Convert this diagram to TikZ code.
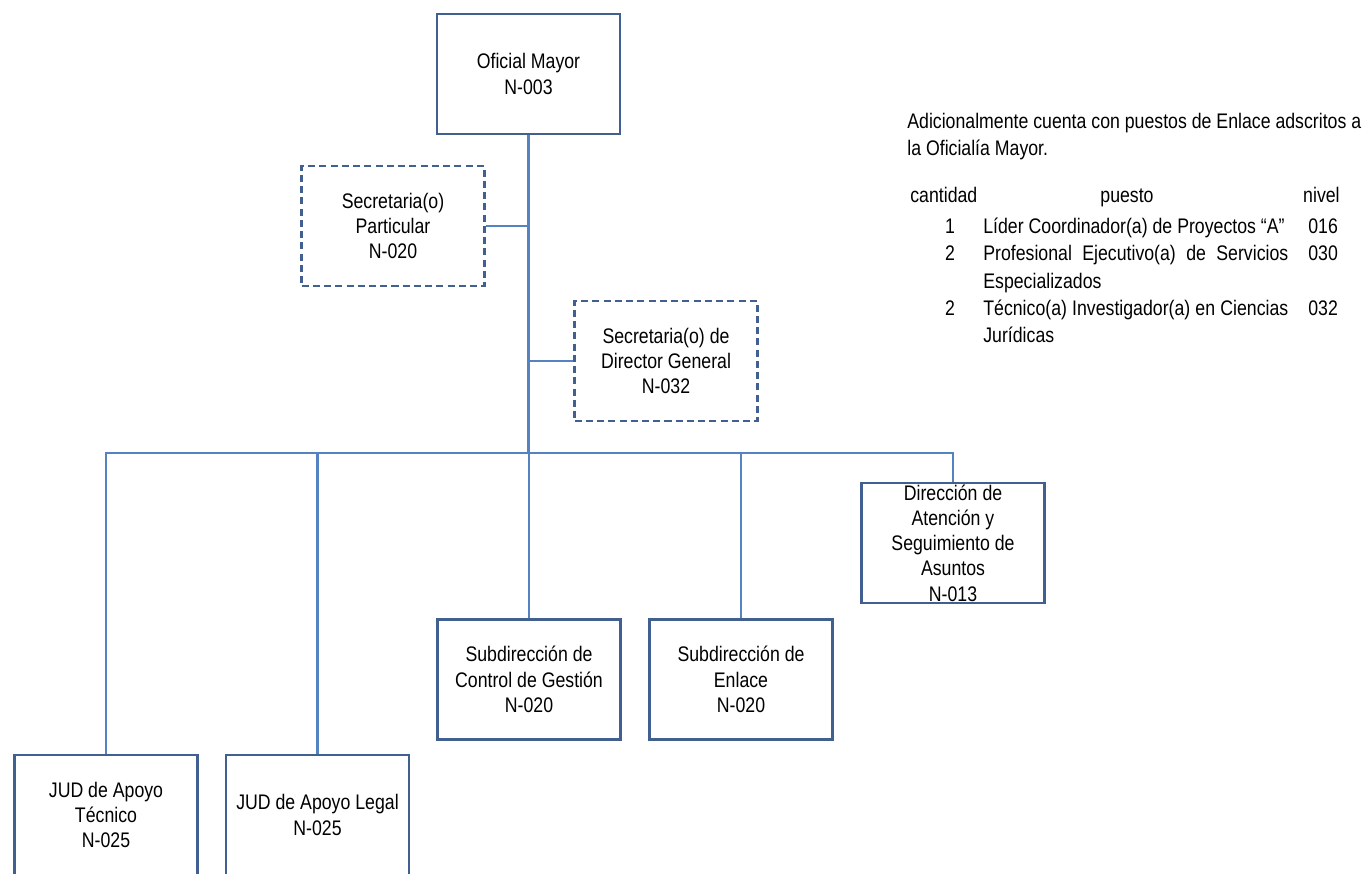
\documentclass[tikz,border=0pt]{standalone}
\usepackage{fontspec}
\setmainfont{Liberation Sans}[FakeStretch=0.84]
\usepackage{tikz}
\usepackage{xcolor}
\definecolor{boxc}{HTML}{41608F}
\definecolor{linec}{HTML}{5582C0}

\begin{document}
\begin{tikzpicture}[x=0.02cm,y=-0.02cm,
  font=\fontsize{12}{14.4}\selectfont,
  box/.style={draw=boxc,line width=1.2pt,minimum width=3.66cm,minimum height=2.4cm,align=center,inner sep=1pt},
  dbox/.style={box,dash pattern=on 4pt off 2.4pt},
  conn/.style={draw=linec,line width=1.2pt}]
  \useasboundingbox (0,0) rectangle (1365,873);
  \clip (0,0) rectangle (1365,873);
  % boxes: positions in px of the page
  \node[box] (ofm) at (528.5,74) {Oficial Mayor\\N-003};
  \node[dbox] (secpart) at (393,226) {Secretaria(o)\\Particular\\N-020};
  \node[dbox] (secdg) at (666,361) {Secretaria(o) de\\Director General\\N-032};
  \node[box] (dasa) at (953,543) {Dirección de\\Atención y\\Seguimiento de\\Asuntos\\N-013};
  \node[box] (subcg) at (529,679.5) {Subdirección de\\Control de Gestión\\N-020};
  \node[box] (subenl) at (741,679.5) {Subdirección de\\Enlace\\N-020};
  \node[box] (judtec) at (106,815) {JUD de Apoyo\\Técnico\\N-025};
  \node[box] (judleg) at (317.5,815) {JUD de Apoyo Legal\\N-025};
  \coordinate (bus) at (528.5,453);
  % connectors
  \draw[conn] (ofm.south) -- (bus);
  \draw[conn] (secpart.east) -- (secpart.east -| ofm.south);
  \draw[conn] (secdg.west) -- (secdg.west -| ofm.south);
  \draw[conn] (judtec.north) -- (judtec.north |- bus) -- (dasa.north |- bus) -- (dasa.north);
  \foreach \n in {judleg,subcg,subenl}
    \draw[conn] (\n.north) -- (\n.north |- bus);
  % note on the right
  \node[anchor=base west,inner sep=0] (nota1) at (907,128) {Adicionalmente cuenta con puestos de Enlace adscritos a};
  \node[anchor=base west,inner sep=0] (nota2) at (907,155) {la Oficialía Mayor.};
  \node[anchor=base west,inner sep=0] (hcant) at (910,202) {cantidad};
  \node[anchor=base,inner sep=0] (hpue) at (1127,202) {puesto};
  \node[anchor=base east,inner sep=0] (hniv) at (1340,202) {nivel};
  \foreach \y/\c/\t/\v in {
    233/1/Líder Coordinador(a) de Proyectos “A”/016,
    260/2/{\hbox to 6.1cm{Profesional\hfill Ejecutivo(a)\hfill de\hfill Servicios}}/030,
    315/2/{\hbox to 6.1cm{Técnico(a)\hfill Investigador(a)\hfill en\hfill Ciencias}}/032} {
    \node[anchor=base,inner sep=0] at (950,\y) {\c};
    \node[anchor=base west,inner sep=0] at (983,\y) {\t};
    \node[anchor=base west,inner sep=0] at (1308,\y) {\v};
  }
  \node[anchor=base west,inner sep=0] (esp) at (983,288) {Especializados};
  \node[anchor=base west,inner sep=0] (jur) at (983,342) {Jurídicas};
\end{tikzpicture}
\end{document}
